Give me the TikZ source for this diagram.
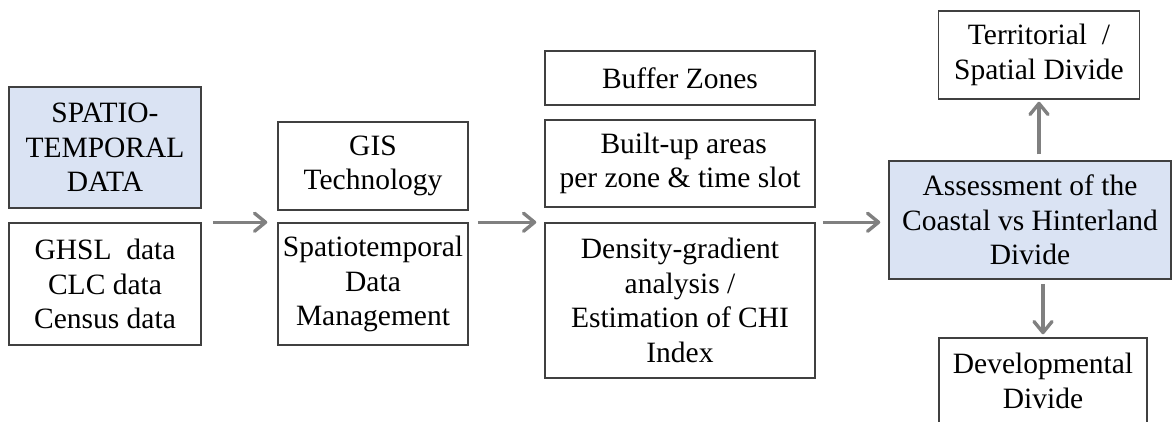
\documentclass[tikz,border=0pt]{standalone}
\usepackage{fontspec}
\setmainfont{Liberation Serif}
\usetikzlibrary{arrows.meta,calc}
\definecolor{boxfill}{HTML}{DAE3F3}
\definecolor{boxline}{HTML}{404040}
\definecolor{arrowgray}{HTML}{808080}
\begin{document}
\begin{tikzpicture}[x=1pt,y=-1pt,
  stepbox/.style={draw=boxline, line width=1.5pt, fill=white, inner sep=0pt,
    align=center, font=\fontsize{29.5}{34.5}\selectfont},
  keybox/.style={stepbox, fill=boxfill},
  flow/.style={draw=arrowgray, line width=3.4pt,
    -{Straight Barb[length=11pt,width=18pt,line cap=round,line join=round]}}]
\useasboundingbox (0,0) rectangle (1172,421);
\clip (0,0) rectangle (1172,421);

% input data
\node[keybox, minimum width=192pt, minimum height=121pt] (src) at (105,147.5)
  {SPATIO-\\TEMPORAL\\DATA};
\node[stepbox, minimum width=192pt, minimum height=122pt] (data) at (105,284)
  {GHSL\ \ data\\CLC data\\Census data};

% processing
\node[stepbox, minimum width=190pt, minimum height=88pt] (gis) at (373,166)
  {GIS\\Technology};
\node[stepbox, minimum width=190pt, minimum height=122pt] (stdm) at (373,284)
  {Spatiotemporal\\Data\\Management};

% analysis
\node[stepbox, minimum width=270pt, minimum height=54pt] (buffer) at (680,78)
  {Buffer Zones};
\node[stepbox, minimum width=270pt, minimum height=87pt] (built) at (680,163.5)
  {\ Built-up areas\\per zone \& time slot};
\node[stepbox, minimum width=270pt, minimum height=155pt] (dens) at (680,300.5)
  {Density-gradient\\analysis /\\Estimation of CHI\\Index};

% outcome
\node[keybox, minimum width=282pt, minimum height=118pt] (assess) at (1030,220)
  {Assessment of the\\Coastal vs Hinterland\\Divide};
\node[stepbox, minimum width=201pt, minimum height=88pt] (terr) at (1039,55)
  {Territorial\ \ /\\Spatial Divide};
\node[stepbox, minimum width=208pt, minimum height=86pt] (dev) at (1043,381)
  {Developmental\\Divide};

% connectors
\draw[flow] ($(data.north east)+(11,0)$) -- ($(stdm.north west)+(-10,0)$);
\draw[flow] ($(stdm.north east)+(9,0)$) -- ($(dens.north west)+(-8,0)$);
\draw[flow] ($(dens.north east)+(7,0)$) -- ($(dens.north east -| assess.west)+(-8,0)$);
\draw[flow] ($(assess.north -| terr.south)+(0,-6)$) -- ($(terr.south)+(0,2)$);
\draw[flow] ($(assess.south -| dev.north)+(0,4)$) -- ($(dev.north)+(0,-3)$);
\end{tikzpicture}
\end{document}
